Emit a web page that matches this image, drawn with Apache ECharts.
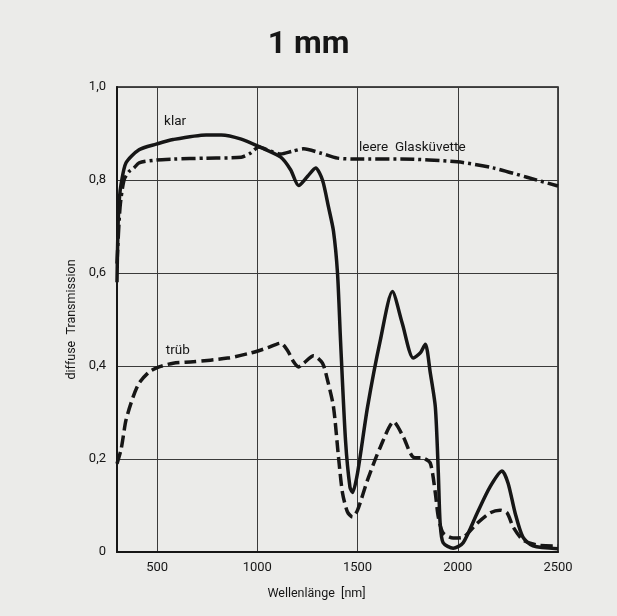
<!DOCTYPE html>
<html>
<head>
<meta charset="utf-8">
<script src="https://cdn.jsdelivr.net/npm/echarts@6/dist/echarts.min.js"></script>
<style>
  html, body { margin: 0; padding: 0; background: #ebebe9; }
  #chart { width: 617px; height: 616px; }
</style>
</head>
<body>
<div id="chart"></div>
<script>
// Achsen
const xTicks = [500, 1000, 1500, 2000, 2500]
const yTicks = [0, 0.2, 0.4, 0.6, 0.8, 1.0]

// Messkurven [Wellenlänge nm, diffuse Transmission]
const klar = [
  [300, 0.58], [305, 0.7], [312, 0.76], [320, 0.79], [345, 0.837], [410, 0.865],
  [495, 0.877], [580, 0.887], [745, 0.897], [820, 0.897], [920, 0.888],
  [1017, 0.87], [1117, 0.849], [1166, 0.822], [1206, 0.788], [1251, 0.808],
  [1291, 0.826], [1325, 0.8], [1355, 0.742], [1380, 0.69], [1400, 0.6],
  [1415, 0.456], [1440, 0.24], [1462, 0.14], [1475, 0.128], [1500, 0.17],
  [1550, 0.312], [1614, 0.456], [1674, 0.56], [1723, 0.492], [1778, 0.417],
  [1813, 0.428], [1838, 0.447], [1863, 0.385], [1888, 0.312], [1903, 0.17],
  [1912, 0.062], [1927, 0.02], [1977, 0.008], [2027, 0.02], [2097, 0.084],
  [2161, 0.14], [2221, 0.174], [2251, 0.148], [2286, 0.084], [2325, 0.032],
  [2375, 0.013], [2500, 0.007]
]
const glasKuevette = [
  [300, 0.62], [315, 0.74], [335, 0.8], [360, 0.818], [385, 0.826],
  [410, 0.837], [495, 0.843], [580, 0.845], [745, 0.847], [920, 0.849],
  [967, 0.858], [1007, 0.871], [1067, 0.862], [1117, 0.856], [1176, 0.862],
  [1231, 0.867], [1315, 0.858], [1400, 0.847], [1500, 0.845], [1713, 0.845],
  [1997, 0.839], [2176, 0.826], [2345, 0.806], [2500, 0.787]
]
const trueb = [
  [300, 0.19], [320, 0.22], [330, 0.245], [345, 0.284], [380, 0.333],
  [410, 0.363], [460, 0.387], [510, 0.398], [580, 0.406], [680, 0.409],
  [852, 0.417], [967, 0.428], [1050, 0.439], [1117, 0.449], [1150, 0.434],
  [1181, 0.409], [1206, 0.398], [1231, 0.406], [1281, 0.422], [1325, 0.406],
  [1350, 0.37], [1380, 0.312], [1405, 0.204], [1425, 0.127], [1450, 0.086],
  [1475, 0.075], [1500, 0.09], [1550, 0.155], [1614, 0.226], [1680, 0.28],
  [1729, 0.247], [1778, 0.204], [1828, 0.202], [1863, 0.191], [1888, 0.127],
  [1903, 0.075], [1927, 0.041], [1977, 0.03], [2027, 0.032], [2097, 0.062],
  [2161, 0.084], [2211, 0.09], [2246, 0.084], [2276, 0.054], [2325, 0.026],
  [2395, 0.015], [2500, 0.013]
]

// Kurvenbeschriftungen
const labels = [
  { text: 'klar', at: [590, 0.925] },
  { text: 'leere  Glasküvette', at: [1773, 0.869] },
  { text: 'trüb', at: [603, 0.432] }
]

const ink = '#161616'
const font = 'Roboto, "DejaVu Sans", sans-serif'

const lineSeries = (name, data, type) => ({
  name: name,
  type: 'line',
  data: data,
  smooth: 0.25,
  showSymbol: false,
  silent: true,
  lineStyle: { color: ink, width: 3.5, type: type, cap: 'butt', join: 'round' }
})

const chart = echarts.init(document.getElementById('chart'))
const option = {
  animation: false,
  backgroundColor: '#ebebe9',
  title: {
    text: '1 mm',
    left: 'center',
    top: 24,
    textStyle: { fontFamily: font, fontSize: 32, fontWeight: 'bold', color: ink }
  },
  grid: {
    left: 117, right: 59, top: 87, bottom: 64,
    show: true,
    borderColor: ink,
    borderWidth: 1.5
  },
  xAxis: {
    type: 'value',
    min: 300,
    max: 2500,
    name: 'Wellenlänge  [nm]',
    nameLocation: 'middle',
    nameGap: 35,
    nameTextStyle: { fontFamily: font, fontSize: 12.5, color: ink, padding: [0, 42, 0, 0] },
    axisLine: { lineStyle: { color: ink, width: 2 } },
    axisTick: { show: false, customValues: xTicks },
    axisLabel: {
      customValues: xTicks,
      margin: 9,
      fontFamily: font,
      fontSize: 13,
      color: ink,
      formatter: v => String(v)
    },
    splitLine: { show: true, lineStyle: { color: '#3a3a3a', width: 1 } }
  },
  yAxis: {
    type: 'value',
    min: 0,
    max: 1,
    interval: 0.2,
    name: 'diffuse  Transmission',
    nameLocation: 'middle',
    nameGap: 35,
    nameTextStyle: { fontFamily: font, fontSize: 12.5, color: ink },
    axisLine: { show: true, lineStyle: { color: ink, width: 2 } },
    axisTick: { show: false },
    axisLabel: {
      margin: 11,
      fontFamily: font,
      fontSize: 13,
      color: ink,
      formatter: v => (v === 0 ? '0' : v.toFixed(1).replace('.', ','))
    },
    splitLine: { show: true, lineStyle: { color: '#3a3a3a', width: 1 } }
  },
  series: [
    lineSeries('klar', klar, 'solid'),
    lineSeries('leere Glasküvette', glasKuevette, [14, 4, 3, 4]),
    lineSeries('trüb', trueb, [12, 5]),
    {
      type: 'scatter',
      data: [],
      silent: true,
      markPoint: {
        symbol: 'circle',
        symbolSize: 0,
        data: labels.map(l => ({
          coord: l.at,
          label: {
            show: true,
            position: 'inside',
            formatter: l.text,
            fontFamily: font,
            fontSize: 13.5,
            color: ink
          }
        }))
      }
    }
  ]
}
chart.setOption(option)
</script>
</body>
</html>
